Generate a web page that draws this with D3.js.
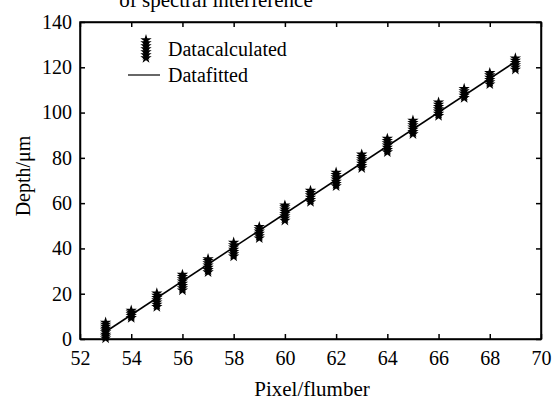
<!DOCTYPE html>
<html><head><meta charset="utf-8">
<script src="https://cdn.jsdelivr.net/npm/d3@7"></script>
<style>body{margin:0;background:#fff}svg{display:block}text{font-family:"Liberation Serif","Times New Roman",serif;fill:#000}</style>
</head><body><svg id="c" width="555" height="401"></svg>
<script>
const pixels = [53,54,55,56,57,58,59,60,61,62,63,64,65,66,67,68,69];
const depths = [
  [0.3,1.2,2.0,3.0,3.8,4.6,5.5,6.4,7.3],
  [9.3,10.2,11.0,11.8,12.6],
  [14.2,15.2,16.2,17.2,18.2,19.2,20.2],
  [21.5,22.5,23.5,24.5,25.5,26.5,27.5,28.4],
  [29.5,30.5,31.5,32.5,33.5,34.5,35.3],
  [36.5,37.5,38.5,39.5,40.5,41.5,42.6],
  [44.5,45.5,46.5,47.5,48.5,49.5],
  [52.3,53.3,54.3,55.3,56.3,57.3,58.3,59.0],
  [60.5,61.5,62.5,63.5,64.5,65.5],
  [67.5,68.5,69.5,70.5,71.5,72.5,73.5],
  [75.5,76.5,77.5,78.5,79.5,80.5,81.5],
  [82.5,83.5,84.5,85.5,86.5,87.5,88.5],
  [90.5,91.5,92.5,93.5,94.5,95.5,96.5],
  [98.5,99.5,100.5,101.5,102.5,103.5,104.5],
  [106.5,107.5,108.5,109.5,110.5],
  [112.5,113.5,114.5,115.5,116.5,117.5],
  [119.0,120.0,121.0,122.0,123.0,124.0]
];
const fitX = [53, 69];
const fitY = [3.2, 122.5];
const xTicks = [52,54,56,58,60,62,64,66,68,70];
const yTicks = [0,20,40,60,80,100,120,140];

const svg = d3.select("#c");
const L=80, R=541, T=22, B=339;
const x = d3.scaleLinear().domain([52,70]).range([L,R]);
const y = d3.scaleLinear().domain([0,140]).range([B,T]);

// title fragment
svg.append("text").attr("x",216).attr("y",7).attr("text-anchor","middle").attr("font-size",21).text("of spectral interference");

const fs = 20;
// axes
const gB = svg.append("g").attr("transform",`translate(0,${B})`).call(d3.axisBottom(x).tickValues(xTicks).tickSizeInner(-5).tickSizeOuter(0).tickPadding(12));
const gT = svg.append("g").attr("transform",`translate(0,${T})`).call(d3.axisTop(x).tickValues(xTicks).tickSizeInner(-5).tickSizeOuter(0).tickFormat(""));
const gL = svg.append("g").attr("transform",`translate(${L},0)`).call(d3.axisLeft(y).tickValues(yTicks).tickSizeInner(-5).tickSizeOuter(0).tickPadding(8));
const gR = svg.append("g").attr("transform",`translate(${R},0)`).call(d3.axisRight(y).tickValues(yTicks).tickSizeInner(-5).tickSizeOuter(0).tickFormat(""));
[gB,gT,gL,gR].forEach(g=>{
  g.selectAll(".domain").attr("stroke","#000").attr("stroke-width",1.5);
  g.selectAll(".tick line").attr("stroke","#000").attr("stroke-width",1.5);
  g.selectAll("text").attr("font-size",fs).attr("font-family","Liberation Serif");
});
gB.selectAll("text").attr("dy","0.71em");
svg.append("rect").attr("x",L).attr("y",T).attr("width",R-L).attr("height",B-T).attr("fill","none").attr("stroke","#000").attr("stroke-width",1.5);

// fit line
svg.append("line").attr("x1",x(fitX[0])).attr("y1",y(fitY[0])).attr("x2",x(fitX[1])).attr("y2",y(fitY[1])).attr("stroke","#000").attr("stroke-width",1.6);

// points
const star = d3.symbol().type(d3.symbolStar).size(40);
const pts = [];
pixels.forEach((p,i)=>depths[i].forEach(v=>pts.push([p,v])));
svg.append("g").selectAll("path").data(pts).join("path")
  .attr("transform",d=>`translate(${x(d[0])},${y(d[1])})`).attr("d",star).attr("fill","#000");

// legend
const lg = svg.append("g");
[40,43,46,49,52,55,58].forEach(yy=>lg.append("path").attr("transform",`translate(146,${yy})`).attr("d",star).attr("fill","#000"));
lg.append("text").attr("x",168).attr("y",56).attr("font-size",fs).text("Datacalculated");
lg.append("line").attr("x1",128).attr("x2",160).attr("y1",75).attr("y2",75).attr("stroke","#000").attr("stroke-width",1.2);
lg.append("text").attr("x",168).attr("y",82).attr("font-size",fs).text("Datafitted");

// axis labels
svg.append("text").attr("x",312).attr("y",396).attr("text-anchor","middle").attr("font-size",21).text("Pixel/flumber");
svg.append("text").attr("transform","translate(30,176) rotate(-90)").attr("text-anchor","middle").attr("font-size",fs).text("Depth/μm");
</script></body></html>
